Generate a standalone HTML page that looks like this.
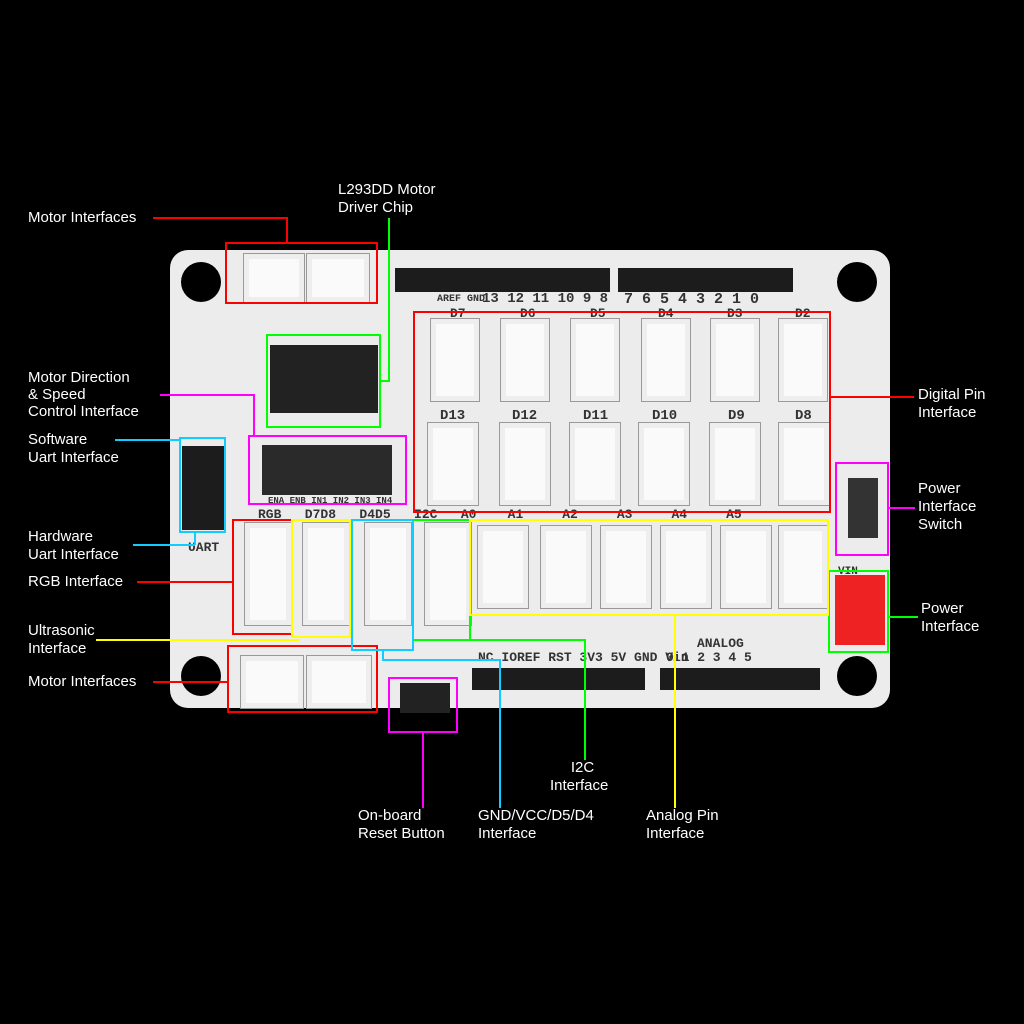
<!DOCTYPE html>
<html><head><style>
body{margin:0;background:#000;width:1024px;height:1024px;position:relative;overflow:hidden;font-family:"Liberation Sans",sans-serif}
.a{position:absolute}
.t{position:absolute;color:#fff;font-size:15px;line-height:18px;white-space:nowrap}
.c{position:absolute;background:#fafafa;border:1px solid #999;box-shadow:inset 0 0 0 5px #eee}
.h{position:absolute;background:#1c1c1c}
.s{position:absolute;color:#333;font-family:"Liberation Mono",monospace;font-size:11px;font-weight:bold;white-space:nowrap}
.hole{position:absolute;width:40px;height:40px;border-radius:50%;background:#000}
</style></head><body>
<div class="a" style="left:170px;top:250px;width:720px;height:458px;background:#ececec;border-radius:18px"></div>
<div class="hole" style="left:181px;top:262px"></div>
<div class="hole" style="left:837px;top:262px"></div>
<div class="hole" style="left:181px;top:656px"></div>
<div class="hole" style="left:837px;top:656px"></div>
<div class="h" style="left:395px;top:268px;width:215px;height:24px"></div>
<div class="h" style="left:618px;top:268px;width:175px;height:24px"></div>
<div class="h" style="left:472px;top:668px;width:173px;height:22px"></div>
<div class="h" style="left:660px;top:668px;width:160px;height:22px"></div>
<div class="h" style="left:182px;top:446px;width:42px;height:84px"></div>
<div class="h" style="left:262px;top:445px;width:130px;height:50px;background:#2a2a2a"></div>
<div class="a" style="left:270px;top:345px;width:108px;height:68px;background:#222"></div>
<div class="a" style="left:400px;top:683px;width:50px;height:30px;background:#222"></div>
<div class="a" style="left:835px;top:575px;width:50px;height:70px;background:#e22"></div>
<div class="a" style="left:848px;top:478px;width:30px;height:60px;background:#333"></div>
<div class="c" style="left:243px;top:253px;width:60px;height:48px"></div>
<div class="c" style="left:306px;top:253px;width:62px;height:48px"></div>
<div class="c" style="left:240px;top:655px;width:62px;height:52px"></div>
<div class="c" style="left:306px;top:655px;width:64px;height:52px"></div>
<div class="c" style="left:430px;top:318px;width:48px;height:82px"></div>
<div class="c" style="left:500px;top:318px;width:48px;height:82px"></div>
<div class="c" style="left:570px;top:318px;width:48px;height:82px"></div>
<div class="c" style="left:641px;top:318px;width:48px;height:82px"></div>
<div class="c" style="left:710px;top:318px;width:48px;height:82px"></div>
<div class="c" style="left:778px;top:318px;width:48px;height:82px"></div>
<div class="c" style="left:427px;top:422px;width:50px;height:82px"></div>
<div class="c" style="left:499px;top:422px;width:50px;height:82px"></div>
<div class="c" style="left:569px;top:422px;width:50px;height:82px"></div>
<div class="c" style="left:638px;top:422px;width:50px;height:82px"></div>
<div class="c" style="left:709px;top:422px;width:50px;height:82px"></div>
<div class="c" style="left:778px;top:422px;width:50px;height:82px"></div>
<div class="c" style="left:477px;top:525px;width:50px;height:82px"></div>
<div class="c" style="left:540px;top:525px;width:50px;height:82px"></div>
<div class="c" style="left:600px;top:525px;width:50px;height:82px"></div>
<div class="c" style="left:660px;top:525px;width:50px;height:82px"></div>
<div class="c" style="left:720px;top:525px;width:50px;height:82px"></div>
<div class="c" style="left:778px;top:525px;width:48px;height:82px"></div>
<div class="c" style="left:244px;top:522px;width:46px;height:102px"></div>
<div class="c" style="left:302px;top:522px;width:46px;height:102px"></div>
<div class="c" style="left:364px;top:522px;width:46px;height:102px"></div>
<div class="c" style="left:424px;top:522px;width:46px;height:102px"></div>
<div class="s" style="left:450px;top:306px;font-size:13px">D7</div>
<div class="s" style="left:520px;top:306px;font-size:13px">D6</div>
<div class="s" style="left:590px;top:306px;font-size:13px">D5</div>
<div class="s" style="left:658px;top:306px;font-size:13px">D4</div>
<div class="s" style="left:727px;top:306px;font-size:13px">D3</div>
<div class="s" style="left:795px;top:306px;font-size:13px">D2</div>
<div class="s" style="left:440px;top:408px;font-size:14px">D13</div>
<div class="s" style="left:512px;top:408px;font-size:14px">D12</div>
<div class="s" style="left:583px;top:408px;font-size:14px">D11</div>
<div class="s" style="left:652px;top:408px;font-size:14px">D10</div>
<div class="s" style="left:728px;top:408px;font-size:14px">D9</div>
<div class="s" style="left:795px;top:408px;font-size:14px">D8</div>
<div class="s" style="left:437px;top:294px;font-size:10px">AREF GND</div>
<div class="s" style="left:482px;top:291px;font-size:14px">13 12 11 10 9 8</div>
<div class="s" style="left:624px;top:291px;font-size:15px">7 6 5 4 3 2 1 0</div>
<div class="s" style="left:258px;top:507px;font-size:13px">RGB &nbsp; D7D8 &nbsp; D4D5 &nbsp; I2C &nbsp; A0 &nbsp; &nbsp;A1 &nbsp; &nbsp; A2 &nbsp; &nbsp; A3 &nbsp; &nbsp; A4 &nbsp; &nbsp; A5</div>
<div class="s" style="left:478px;top:650px;font-size:13px">NC IOREF RST 3V3 5V GND Vin</div>
<div class="s" style="left:697px;top:636px;font-size:13px">ANALOG</div>
<div class="s" style="left:666px;top:650px;font-size:13px">0 1 2 3 4 5</div>
<div class="s" style="left:188px;top:540px;font-size:13px">UART</div>
<div class="s" style="left:268px;top:496px;font-size:9px">ENA ENB IN1 IN2 IN3 IN4</div>
<div class="s" style="left:838px;top:566px;font-size:11px">VIN</div>
<svg class="a" style="left:0;top:0" width="1024" height="1024" fill="none" stroke-width="2">
<g stroke="#f00">
<rect x="226" y="243" width="151" height="60"/>
<polyline points="153,218 287,218 287,243"/>
<rect x="414" y="312" width="416" height="200"/>
<line x1="830" y1="397" x2="914" y2="397"/>
<rect x="233" y="520" width="59" height="114"/>
<line x1="137" y1="582" x2="233" y2="582"/>
<rect x="228" y="646" width="149" height="66"/>
<line x1="153" y1="682" x2="228" y2="682"/>
</g>
<g stroke="#0f0">
<rect x="267" y="335" width="113" height="92"/>
<polyline points="380,381 389,381 389,218"/>
<rect x="413" y="520" width="57" height="120"/>
<polyline points="440,640 585,640 585,760"/>
<rect x="829" y="571" width="59" height="81"/>
<line x1="888" y1="617" x2="918" y2="617"/>
</g>
<g stroke="#f0f">
<rect x="249" y="436" width="157" height="68"/>
<polyline points="160,395 254,395 254,436"/>
<rect x="389" y="678" width="68" height="54"/>
<line x1="423" y1="732" x2="423" y2="808"/>
<rect x="836" y="463" width="52" height="92"/>
<line x1="888" y1="508" x2="915" y2="508"/>
</g>
<g stroke="#1cf">
<rect x="180" y="438" width="45" height="94"/>
<line x1="115" y1="440" x2="180" y2="440"/>
<line x1="133" y1="545" x2="195" y2="545"/>
<line x1="195" y1="545" x2="195" y2="532"/>
<rect x="352" y="520" width="61" height="130"/>
<polyline points="383,650 383,660 500,660 500,808"/>
</g>
<g stroke="#ff0">
<rect x="292" y="520" width="58" height="117"/>
<line x1="96" y1="640" x2="300" y2="640"/>
<rect x="470" y="520" width="358" height="95"/>
<line x1="675" y1="615" x2="675" y2="808"/>
</g>
</svg>
<div class="t" style="left:28px;top:209px">Motor Interfaces</div>
<div class="t" style="left:338px;top:181px">L293DD Motor<br>Driver Chip</div>
<div class="t" style="left:28px;top:369px;line-height:17px">Motor Direction<br>&amp; Speed<br>Control Interface</div>
<div class="t" style="left:28px;top:431px">Software<br>Uart Interface</div>
<div class="t" style="left:28px;top:528px">Hardware<br>Uart Interface</div>
<div class="t" style="left:28px;top:573px">RGB Interface</div>
<div class="t" style="left:28px;top:622px">Ultrasonic<br>Interface</div>
<div class="t" style="left:28px;top:673px">Motor Interfaces</div>
<div class="t" style="left:918px;top:386px">Digital Pin<br>Interface</div>
<div class="t" style="left:918px;top:480px">Power<br>Interface<br>Switch</div>
<div class="t" style="left:921px;top:600px">Power<br>Interface</div>
<div class="t" style="left:550px;top:759px">&nbsp; &nbsp; &nbsp;I2C<br>Interface</div>
<div class="t" style="left:358px;top:807px">On-board<br>Reset Button</div>
<div class="t" style="left:478px;top:807px">GND/VCC/D5/D4<br>Interface</div>
<div class="t" style="left:646px;top:807px">Analog Pin<br>Interface</div>
</body></html>
